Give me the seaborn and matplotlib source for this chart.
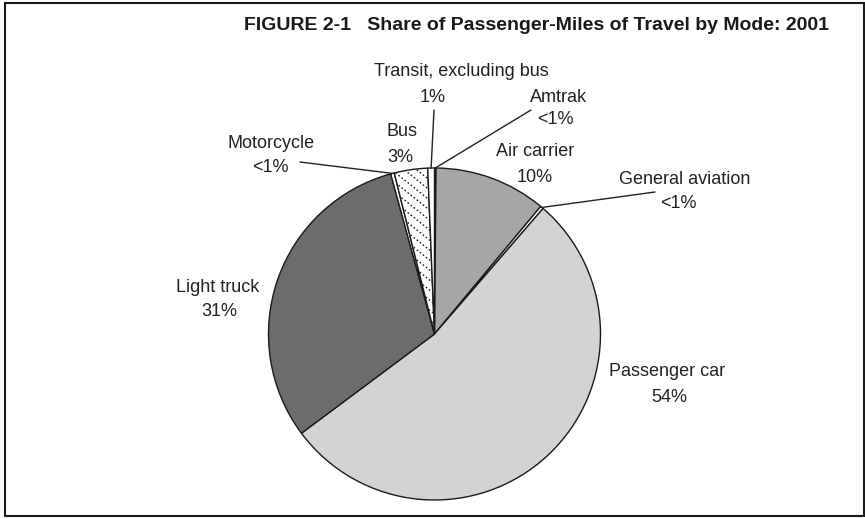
import numpy as np
import pandas as pd
import matplotlib
matplotlib.use('Agg')
import matplotlib.pyplot as plt
import seaborn as sns
from matplotlib.patches import Rectangle

# share of passenger-miles, 2001 (percent)
modes = ['Amtrak', 'Air carrier', 'General aviation', 'Passenger car',
         'Light truck', 'Motorcycle', 'Bus', 'Transit, excluding bus']
share = [0.15, 10.9, 0.3, 53.45, 30.95, 0.35, 3.25, 0.65]
pct_labels = ['<1%', '10%', '<1%', '54%', '31%', '<1%', '3%', '1%']
colors = ['#1e1e1e', '#a5a6a8', '#ffffff', '#d2d3d5',
          '#6b6c6e', '#ffffff', '#ffffff', '#ffffff']

df = pd.DataFrame({'mode': modes, 'share': share, 'pct': pct_labels})

sns.set_theme(style='white')
plt.rcParams['font.family'] = ['Liberation Sans Narrow', 'Liberation Sans', 'DejaVu Sans']

W, H = 865, 519
fig = plt.figure(figsize=(8.65, 5.19), dpi=100)
ax = fig.add_axes([0, 0, 1, 1])

def py(y):  # image pixel row -> data y
    return H - y

cx, cy, R = 434.5, 334, 166
wedges, _ = ax.pie(df['share'], colors=colors, startangle=90, counterclock=False,
                   center=(cx, py(cy)), radius=R,
                   wedgeprops=dict(edgecolor='#1a1a1a', linewidth=1.0))
ax.set_xlim(0, W)
ax.set_ylim(0, H)
ax.set_aspect('equal')
ax.axis('off')

# dotted diagonal hatch on the bus slice
bus = wedges[modes.index('Bus')]
xs = np.array([cx - 200, cx + 200])
for off in np.arange(-400, 400, 10):
    ln, = ax.plot(xs, -0.8 * (xs - cx) + py(cy) + off, color='#222222', lw=1.0,
                  linestyle=(0, (1.2, 1.6)))
    ln.set_clip_path(bus)

# label positions (name line, pct line) in image pixels
name_pos = {'Transit, excluding bus': (461, 72), 'Amtrak': (559, 97), 'Bus': (402, 132),
            'Air carrier': (535, 152), 'General aviation': (685, 180),
            'Motorcycle': (271, 143), 'Light truck': (218, 288), 'Passenger car': (667, 372)}
pct_pos = {'Transit, excluding bus': (433, 97), 'Amtrak': (555, 120), 'Bus': (400, 157),
           'Air carrier': (535, 177), 'General aviation': (678, 203),
           'Motorcycle': (270, 168), 'Light truck': (219, 312), 'Passenger car': (669, 397)}
leader_end = {'Transit, excluding bus': (434, 110), 'Amtrak': (531, 110),
              'General aviation': (655, 192), 'Motorcycle': (300, 162)}

fs = 13
for _, row in df.iterrows():
    m = row['mode']
    x, y = name_pos[m]
    ax.text(x, py(y), m, ha='center', va='center', fontsize=fs, color='#222222')
    x, y = pct_pos[m]
    ax.text(x, py(y), row['pct'], ha='center', va='center', fontsize=fs, color='#222222')

# leader lines from slice edge to the label
cum = np.cumsum([0] + share)
for i, m in enumerate(modes):
    if m not in leader_end:
        continue
    mid = np.deg2rad((cum[i] + cum[i + 1]) / 2 * 3.6)
    x0, y0 = cx + R * np.sin(mid), cy - R * np.cos(mid)
    x1, y1 = leader_end[m]
    ax.plot([x0, x1], [py(y0), py(y1)], color='#222222', lw=1.0)

ax.text(537, py(25), 'FIGURE 2-1   Share of Passenger-Miles of Travel by Mode: 2001',
        ha='center', va='center', fontsize=14, fontweight='bold', color='#1a1a1a')

ax.add_patch(Rectangle((5, py(516)), 859, 513, fill=False, edgecolor='#1a1a1a', lw=1.5))

fig.savefig('out.png', dpi=100)
